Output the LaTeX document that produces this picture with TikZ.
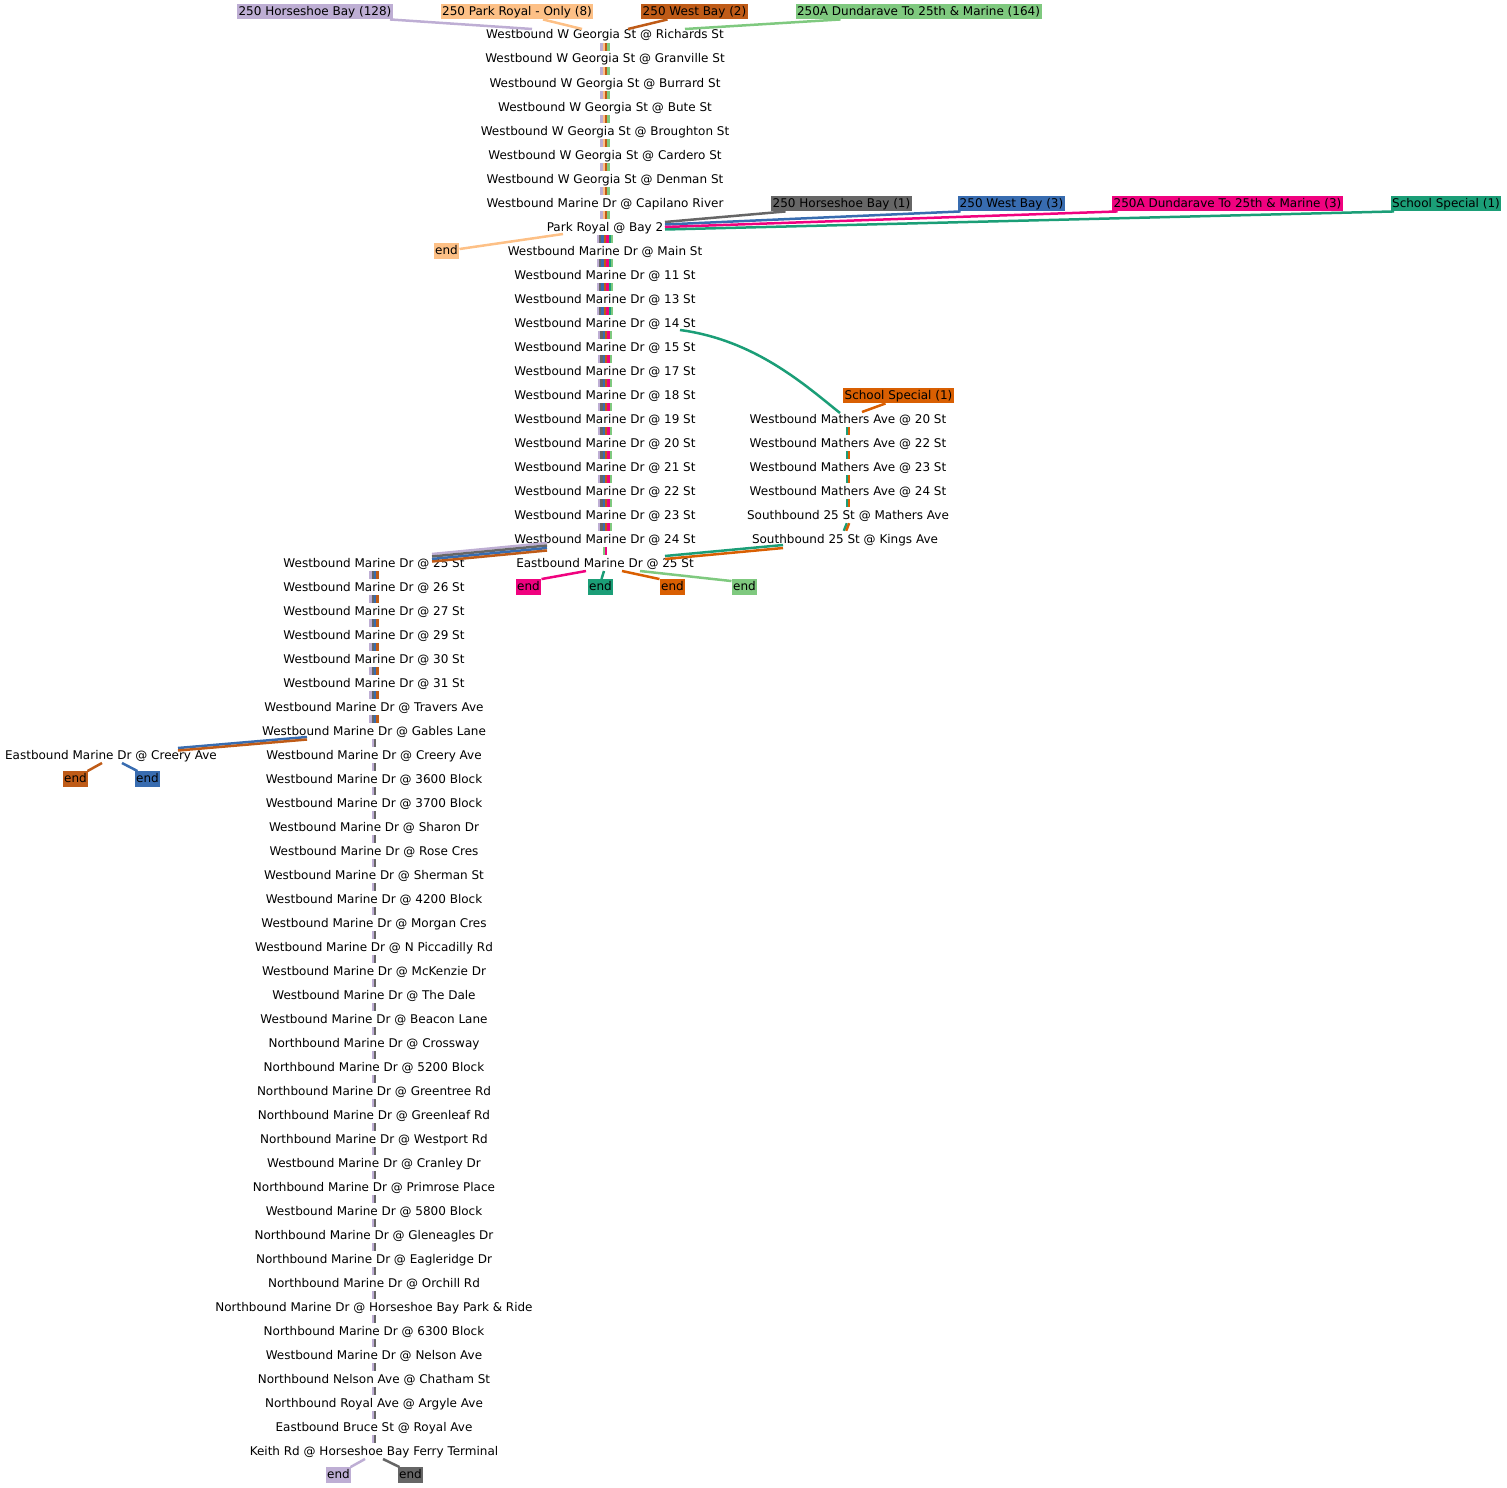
\documentclass[tikz,border=0pt]{standalone}
\usepackage{fontspec}
\setmainfont{DejaVu Sans}
\usepackage{xcolor}
\definecolor{rtlav}{HTML}{BEAED4}
\definecolor{rtpeach}{HTML}{FDC086}
\definecolor{rtbrown}{HTML}{BF5B17}
\definecolor{rtgreen}{HTML}{7FC97F}
\definecolor{rtgray}{HTML}{666666}
\definecolor{rtblue}{HTML}{386CB0}
\definecolor{rtpink}{HTML}{F0027F}
\definecolor{rtteal}{HTML}{1B9E77}
\definecolor{rtorange}{HTML}{D95F02}
\usetikzlibrary{calc}

\begin{document}
\begin{tikzpicture}[x=1pt, y=-1pt,
  stop/.style={font=\fontsize{12}{14}\selectfont, inner sep=0pt, minimum height=16pt,
               text height=10pt, text depth=2pt},
  tagbox/.style={fill=#1, font=\fontsize{12}{14}\selectfont, inner sep=1.5pt,
                 text height=10pt, text depth=2.5pt},
  bar/.style={line width=2.4pt},
  link/.style={line width=2.5pt}]

\useasboundingbox (0,0) rectangle (1507,1488);

% ===== Route labels =====
\node[tagbox=rtlav] (hb128) at (315,11.5) {250 Horseshoe Bay (128)};
\node[tagbox=rtpeach] (pr8) at (517,11.5) {250 Park Royal - Only (8)};
\node[tagbox=rtbrown] (wb2) at (694.5,11.5) {250 West Bay (2)};
\node[tagbox=rtgreen] (dun164) at (918.5,11.5) {250A Dundarave To 25th \& Marine (164)};
\node[tagbox=rtgray] (hb1) at (841.5,203.5) {250 Horseshoe Bay (1)};
\node[tagbox=rtblue] (wb3) at (1011.5,203.5) {250 West Bay (3)};
\node[tagbox=rtpink] (dun3) at (1227.5,203.5) {250A Dundarave To 25th \& Marine (3)};
\node[tagbox=rtteal] (ss1) at (1446,203.5) {School Special (1)};
\node[tagbox=rtorange] (ss2) at (898.5,395.5) {School Special (1)};

% ===== Main trunk: W Georgia St to Marine Dr @ 25 St =====
\foreach \n/\y/\t in {m1/35/Westbound W Georgia St @ Richards St,
    m2/59/Westbound W Georgia St @ Granville St,
    m3/83/Westbound W Georgia St @ Burrard St,
    m4/107/Westbound W Georgia St @ Bute St,
    m5/131/Westbound W Georgia St @ Broughton St,
    m6/155/Westbound W Georgia St @ Cardero St,
    m7/179/Westbound W Georgia St @ Denman St,
    m8/203/Westbound Marine Dr @ Capilano River,
    m9/227/Park Royal @ Bay 2,
    m10/251/Westbound Marine Dr @ Main St,
    m11/275/Westbound Marine Dr @ 11 St,
    m12/299/Westbound Marine Dr @ 13 St,
    m13/323/Westbound Marine Dr @ 14 St,
    m14/347/Westbound Marine Dr @ 15 St,
    m15/371/Westbound Marine Dr @ 17 St,
    m16/395/Westbound Marine Dr @ 18 St,
    m17/419/Westbound Marine Dr @ 19 St,
    m18/443/Westbound Marine Dr @ 20 St,
    m19/467/Westbound Marine Dr @ 21 St,
    m20/491/Westbound Marine Dr @ 22 St,
    m21/515/Westbound Marine Dr @ 23 St,
    m22/539/Westbound Marine Dr @ 24 St,
    m23/563/Eastbound Marine Dr @ 25 St}
  \node[stop] (\n) at (605,\y) {\t};

% ===== Left trunk: Marine Dr to Horseshoe Bay =====
\foreach \n/\y/\t in {l1/563/Westbound Marine Dr @ 25 St,
    l2/587/Westbound Marine Dr @ 26 St,
    l3/611/Westbound Marine Dr @ 27 St,
    l4/635/Westbound Marine Dr @ 29 St,
    l5/659/Westbound Marine Dr @ 30 St,
    l6/683/Westbound Marine Dr @ 31 St,
    l7/707/Westbound Marine Dr @ Travers Ave,
    l8/731/Westbound Marine Dr @ Gables Lane,
    l9/755/Westbound Marine Dr @ Creery Ave,
    l10/779/Westbound Marine Dr @ 3600 Block,
    l11/803/Westbound Marine Dr @ 3700 Block,
    l12/827/Westbound Marine Dr @ Sharon Dr,
    l13/851/Westbound Marine Dr @ Rose Cres,
    l14/875/Westbound Marine Dr @ Sherman St,
    l15/899/Westbound Marine Dr @ 4200 Block,
    l16/923/Westbound Marine Dr @ Morgan Cres,
    l17/947/Westbound Marine Dr @ N Piccadilly Rd,
    l18/971/Westbound Marine Dr @ McKenzie Dr,
    l19/995/Westbound Marine Dr @ The Dale,
    l20/1019/Westbound Marine Dr @ Beacon Lane,
    l21/1043/Northbound Marine Dr @ Crossway,
    l22/1067/Northbound Marine Dr @ 5200 Block,
    l23/1091/Northbound Marine Dr @ Greentree Rd,
    l24/1115/Northbound Marine Dr @ Greenleaf Rd,
    l25/1139/Northbound Marine Dr @ Westport Rd,
    l26/1163/Westbound Marine Dr @ Cranley Dr,
    l27/1187/Northbound Marine Dr @ Primrose Place,
    l28/1211/Westbound Marine Dr @ 5800 Block,
    l29/1235/Northbound Marine Dr @ Gleneagles Dr,
    l30/1259/Northbound Marine Dr @ Eagleridge Dr,
    l31/1283/Northbound Marine Dr @ Orchill Rd,
    l32/1307/Northbound Marine Dr @ Horseshoe Bay Park \& Ride,
    l33/1331/Northbound Marine Dr @ 6300 Block,
    l34/1355/Westbound Marine Dr @ Nelson Ave,
    l35/1379/Northbound Nelson Ave @ Chatham St,
    l36/1403/Northbound Royal Ave @ Argyle Ave,
    l37/1427/Eastbound Bruce St @ Royal Ave,
    l38/1451/Keith Rd @ Horseshoe Bay Ferry Terminal}
  \node[stop] (\n) at (374,\y) {\t};

\node[stop] (ecreery) at (111,755) {Eastbound Marine Dr @ Creery Ave};

% ===== Mathers Ave branch =====
\foreach \n/\y/\t in {r1/419/Westbound Mathers Ave @ 20 St,
    r2/443/Westbound Mathers Ave @ 22 St,
    r3/467/Westbound Mathers Ave @ 23 St,
    r4/491/Westbound Mathers Ave @ 24 St,
    r5/515/Southbound 25 St @ Mathers Ave}
  \node[stop] (\n) at (848,\y) {\t};
\node[stop] (r6) at (845,539) {Southbound 25 St @ Kings Ave};

% ===== End tags =====
\node[tagbox=rtpeach] (endPR) at (446.5,251) {end};
\node[tagbox=rtpink] (endPk) at (528.5,587) {end};
\node[tagbox=rtteal] (endTl) at (600.5,587) {end};
\node[tagbox=rtorange] (endOr) at (672.5,587) {end};
\node[tagbox=rtgreen] (endGn) at (744.5,587) {end};
\node[tagbox=rtbrown] (endBr) at (75.5,779) {end};
\node[tagbox=rtblue] (endBl) at (147.5,779) {end};
\node[tagbox=rtlav] (endLv) at (338.5,1475) {end};
\node[tagbox=rtgray] (endGy) at (410.5,1475) {end};

% ===== Bundles between stops =====
\foreach \i in {1,...,8} {
  \pgfmathtruncatemacro{\j}{\i+1}
  \foreach \c/\o in {rtlav/-3.6, rtpeach/-1.2, rtbrown/1.2, rtgreen/3.6}
    \draw[bar, \c] ([xshift=\o pt]m\i.south) -- ([xshift=\o pt]m\j.north);
}
\foreach \i in {9,...,12} {
  \pgfmathtruncatemacro{\j}{\i+1}
  \foreach \c/\o in {rtlav/-7.2, rtgray/-4.8, rtblue/-2.4, rtbrown/0,
                     rtpink/2.4, rtteal/4.8, rtgreen/7.2}
    \draw[bar, \c] ([xshift=\o pt]m\i.south) -- ([xshift=\o pt]m\j.north);
}
\foreach \i in {13,...,21} {
  \pgfmathtruncatemacro{\j}{\i+1}
  \foreach \c/\o in {rtlav/-6, rtgray/-3.6, rtblue/-1.2, rtbrown/1.2,
                     rtpink/3.6, rtgreen/6}
    \draw[bar, \c] ([xshift=\o pt]m\i.south) -- ([xshift=\o pt]m\j.north);
}
\foreach \c/\o in {rtgreen/-1.2, rtpink/1.2}
  \draw[bar, \c] ([xshift=\o pt]m22.south) -- ([xshift=\o pt]m23.north);

\foreach \i in {1,...,7} {
  \pgfmathtruncatemacro{\j}{\i+1}
  \foreach \c/\o in {rtlav/-3.6, rtgray/-1.2, rtblue/1.2, rtbrown/3.6}
    \draw[bar, \c] ([xshift=\o pt]l\i.south) -- ([xshift=\o pt]l\j.north);
}
\foreach \i in {8,...,37} {
  \pgfmathtruncatemacro{\j}{\i+1}
  \foreach \c/\o in {rtlav/-1.2, rtgray/1.2}
    \draw[bar, \c] ([xshift=\o pt]l\i.south) -- ([xshift=\o pt]l\j.north);
}
\foreach \i in {1,...,5} {
  \pgfmathtruncatemacro{\j}{\i+1}
  \foreach \c/\o in {rtteal/-1.2, rtorange/1.2}
    \draw[bar, \c] ([xshift=\o pt]r\i.south) -- ([xshift=\o pt]r\j.north);
}

% ===== Route starts =====
\draw[link, rtlav] ($(hb128.south)+(75,0)$) -- ($(m1)+(-73,-6)$);
\draw[link, rtpeach] ($(pr8.south)+(26,0)$) -- ($(m1)+(-23,-6)$);
\draw[link, rtbrown] ($(wb2.south)+(-27,0)$) -- ($(m1)+(23,-6)$);
\draw[link, rtgreen] ($(dun164.south)+(-78,0)$) -- ($(m1)+(80,-6)$);

\draw[link, rtgray] ($(hb1.south)+(-56,0)$) -- ($(m9)+(60,-5)$);
\draw[link, rtblue] ($(wb3.south)+(-51,0)$) -- ($(m9)+(60,-2.5)$);
\draw[link, rtpink] ($(dun3.south)+(-110,0)$) -- ($(m9)+(60,0)$);
\draw[link, rtteal] ($(ss1.south)+(-52,0)$) -- ($(m9)+(60,2.5)$);
\draw[link, rtorange] ($(ss2.south)+(-13,0)$) -- ($(r1)+(14,-7)$);

% ===== Branches =====
\draw[link, rtpeach] ($(m9)+(-42,7)$) -- ($(endPR.east)+(0,-2)$);
\draw[link, rtteal] ($(m13)+(75,7)$) .. controls +(75,10) and +(-35,-28) .. ($(r1)+(-8,-6)$);

\foreach \c/\o in {rtlav/0, rtgray/2.5, rtblue/5, rtbrown/7.5}
  \draw[link, \c] ($(m22)+(-58,4+\o)$) -- ($(l1)+(58,-9+\o)$);

\foreach \c/\o in {rtblue/0, rtbrown/2.5}
  \draw[link, \c] ($(l8)+(-67,6+\o)$) -- ($(ecreery)+(67,-7+\o)$);

\foreach \c/\o in {rtteal/0, rtorange/3}
  \draw[link, \c] ($(r6)+(-62,6+\o)$) -- ($(m23)+(60,-7+\o)$);

% ===== Route ends =====
\draw[link, rtpink] ($(m23)+(-19,8)$) -- (endPk.north east);
\draw[link, rtteal] ($(m23)+(-1,8)$) -- ($(endTl.north)+(1,0)$);
\draw[link, rtorange] ($(m23)+(17,8)$) -- (endOr.north west);
\draw[link, rtgreen] ($(m23)+(35,8)$) -- ($(endGn.north west)+(0,2)$);

\draw[link, rtbrown] ($(ecreery)+(-9,8)$) -- ($(endBr.north east)+(-1,0)$);
\draw[link, rtblue] ($(ecreery)+(11,8)$) -- ($(endBl.north west)+(3,0)$);

\draw[link, rtlav] ($(l38)+(-9,8)$) -- ($(endLv.north east)+(-1,0)$);
\draw[link, rtgray] ($(l38)+(9,8)$) -- ($(endGy.north west)+(2,0)$);

\end{tikzpicture}
\end{document}
